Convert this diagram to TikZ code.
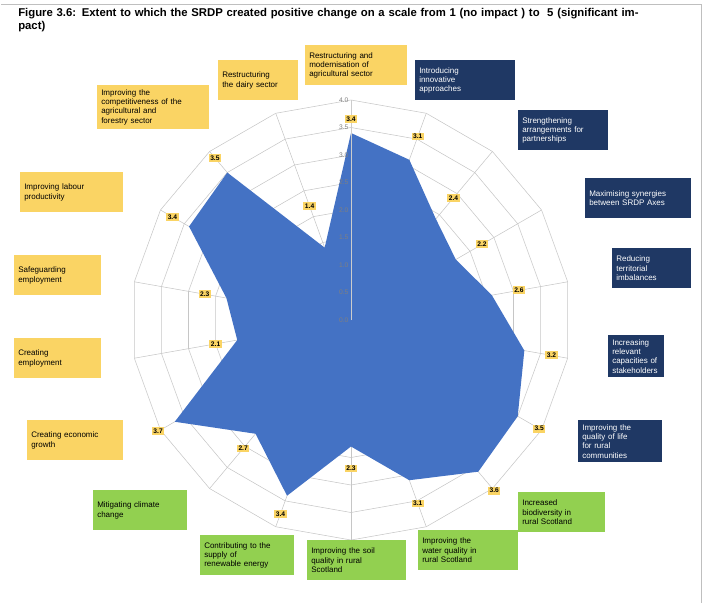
\documentclass[tikz,border=0pt]{standalone}
\usepackage{fontspec}
\setmainfont{Liberation Sans}
\usepackage{xcolor}
\usetikzlibrary{calc}
\definecolor{catyel}{RGB}{250,212,100}
\definecolor{catnavy}{RGB}{31,56,100}
\definecolor{catgrn}{RGB}{146,208,80}
\definecolor{areablue}{RGB}{68,114,196}
\tikzset{
  cat/.style={anchor=north west,inner sep=3pt,align=left,font=\fontsize{6}{7}\selectfont,minimum height=30pt},
  yel/.style={cat,fill=catyel,text=black},
  navy/.style={cat,fill=catnavy,text=white},
  grn/.style={cat,fill=catgrn,text=black},
  val/.style={fill=catyel,inner sep=1.2pt,font=\fontsize{5}{6}\selectfont\bfseries},
}
\begin{document}
\begin{tikzpicture}[x=0.75pt,y=0.75pt,yscale=-1,xscale=1]
\useasboundingbox (0,0) rectangle (702,604);
\draw [gray!50] (1,4) -- (701,4) -- (701,603);

% Title
\node [anchor=north west,inner sep=0pt,align=left,text width=472pt,font=\fontsize{8.5}{10}\selectfont\bfseries] (title) at (18,8)
  {Figure 3.6: Extent to which the SRDP created positive change on a scale from 1 (no impact ) to\ \ 5 (significant impact)};

\coordinate (O) at (351,320);
% Grid
\foreach \r in {1,...,8}{
  \draw [gray!45,line width=0.4pt] ($(O)+(-90:\r*27.5)$)
    \foreach \i in {1,...,17}{ -- ($(O)+(\i*20-90:\r*27.5)$) } -- cycle;
}
\foreach \i in {0,...,17}
  \draw [gray!45,line width=0.4pt] (O) -- ($(O)+(\i*20-90:220)$);

% Data area
\fill [areablue] ($(O)+(-90:3.4*55)$)
  \foreach \v [count=\i] in {3.1,2.4,2.2,2.6,3.2,3.5,3.6,3.1,2.3,3.4,2.7,3.7,2.1,2.3,3.4,3.5,1.4}
    { -- ($(O)+(\i*20-90:\v*55)$) } -- cycle;
\draw [gray!40,line width=0.4pt] (O) -- ($(O)+(-90:220)$);

% Axis ticks
\foreach \t [count=\k from 0] in {0.0,0.5,1.0,1.5,2.0,2.5,3.0,3.5,4.0}
  \node [anchor=east,inner sep=1pt,text=gray,font=\fontsize{5}{6}\selectfont] (tick\k) at ($(O)+(-1,-\k*27.5)$) {\t};

% Value labels
\foreach \v/\rr [count=\i from 0] in {3.4/3.65,3.1/3.55,2.4/2.9,2.2/2.75,2.6/3.1,3.2/3.7,3.5/3.95,3.6/4.05,3.1/3.55,2.3/2.7,3.4/3.75,2.7/3.05,3.7/4.05,2.1/2.5,2.3/2.7,3.4/3.75,3.5/3.85,1.4/2.2}
  \node [val] (val\i) at ($(O)+(\i*20-90:\rr*55)$) {\v};

% Categories
\node [yel,text width=70pt] (restr) at (305,45) {Restructuring and\\modernisation of\\agricultural sector};
\node [navy,text width=69pt] (innov) at (415,60) {Introducing\\innovative\\approaches};
\node [navy,text width=61pt] (partn) at (518,110) {Strengthening\\arrangements for\\partnerships};
\node [navy,text width=73pt] (synerg) at (585,178) {Maximising synergies\\between SRDP Axes};
\node [navy,text width=53pt] (terr) at (612,248) {Reducing\\territorial\\imbalances};
\node [navy,text width=36pt] (capac) at (608,335) {Increasing\\relevant\\capacities of\\stakeholders};
\node [navy,text width=57pt] (life) at (578,420) {Improving the\\quality of life\\for rural\\communities};
\node [grn,text width=59pt] (biod) at (518,492) {Increased\\biodiversity in\\rural Scotland};
\node [grn,text width=69pt] (water) at (418,530) {Improving the\\water quality in\\rural Scotland};
\node [grn,text width=68pt] (soil) at (307,540) {Improving the soil\\quality in rural\\Scotland};
\node [grn,text width=64pt] (renew) at (200,535) {Contributing to the\\supply of\\renewable energy};
\node [grn,text width=64pt] (clim) at (93,490) {Mitigating climate\\change};
\node [yel,text width=66pt] (growth) at (27,420) {Creating economic\\growth};
\node [yel,text width=59pt] (empl) at (14,338) {Creating\\employment};
\node [yel,text width=59pt] (safe) at (14,255) {Safeguarding\\employment};
\node [yel,text width=71pt] (labour) at (20,172) {Improving labour\\productivity};
\node [yel,text width=78pt] (compet) at (97,85) {Improving the\\competitiveness of the\\agricultural and\\forestry sector};
\node [yel,text width=54pt] (dairy) at (218,60) {Restructuring\\the dairy sector};
\end{tikzpicture}
\end{document}
